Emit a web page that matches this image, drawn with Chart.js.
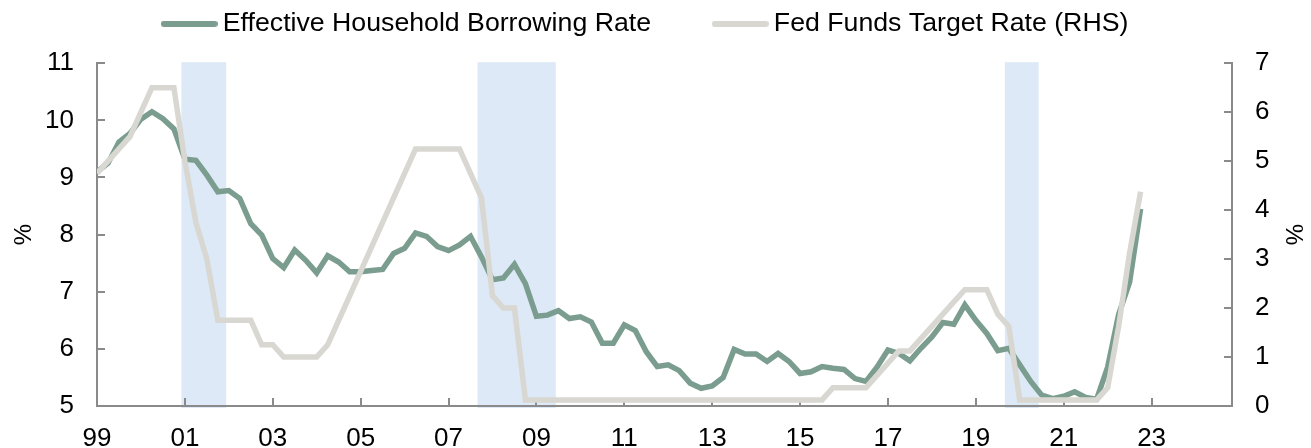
<!DOCTYPE html>
<html>
<head>
<meta charset="utf-8">
<script src="https://cdn.jsdelivr.net/npm/chart.js@4.4.1/dist/chart.umd.min.js"></script>
<style>
  html, body { margin: 0; padding: 0; background: #fff; }
</style>
</head>
<body>
<canvas id="chart" width="1311" height="448"></canvas>
<script>
// quarterly data, first point is 1999 Q1
const startYear = 1999;

const borrowingRate = [
  9.10, 9.25, 9.62, 9.77,   // 1999
  10.02, 10.15, 10.03, 9.85, // 2000
  9.32, 9.30, 9.04, 8.75,   // 2001
  8.77, 8.63, 8.19, 7.99,   // 2002
  7.58, 7.42, 7.73, 7.55,   // 2003
  7.33, 7.63, 7.52, 7.35,   // 2004
  7.35, 7.37, 7.39, 7.67,   // 2005
  7.76, 8.03, 7.97, 7.79,   // 2006
  7.72, 7.82, 7.97, 7.61,   // 2007
  7.21, 7.24, 7.48, 7.14,   // 2008
  6.57, 6.59, 6.67, 6.53,   // 2009
  6.56, 6.47, 6.10, 6.10,   // 2010
  6.42, 6.32, 5.95, 5.69,   // 2011
  5.72, 5.62, 5.40, 5.31,   // 2012
  5.35, 5.50, 5.99, 5.91,   // 2013
  5.91, 5.78, 5.92, 5.78,   // 2014
  5.57, 5.60, 5.69, 5.66,   // 2015
  5.64, 5.48, 5.43, 5.68,   // 2016
  5.98, 5.92, 5.79, 6.01,   // 2017
  6.21, 6.46, 6.43, 6.77,   // 2018
  6.50, 6.27, 5.97, 6.01,   // 2019
  5.72, 5.43, 5.19, 5.13,   // 2020
  5.17, 5.25, 5.15, 5.12,   // 2021
  5.68, 6.60, 7.17, 8.45    // 2022
];

const fedFundsRate = [
  4.75, 5.00, 5.25, 5.50,   // 1999
  6.00, 6.50, 6.50, 6.50,   // 2000
  5.00, 3.75, 3.00, 1.75,   // 2001
  1.75, 1.75, 1.75, 1.25,   // 2002
  1.25, 1.00, 1.00, 1.00,   // 2003
  1.00, 1.25, 1.75, 2.25,   // 2004
  2.75, 3.25, 3.75, 4.25,   // 2005
  4.75, 5.25, 5.25, 5.25,   // 2006
  5.25, 5.25, 4.75, 4.25,   // 2007
  2.25, 2.00, 2.00, 0.125,  // 2008
  0.125, 0.125, 0.125, 0.125, // 2009
  0.125, 0.125, 0.125, 0.125, // 2010
  0.125, 0.125, 0.125, 0.125, // 2011
  0.125, 0.125, 0.125, 0.125, // 2012
  0.125, 0.125, 0.125, 0.125, // 2013
  0.125, 0.125, 0.125, 0.125, // 2014
  0.125, 0.125, 0.125, 0.375, // 2015
  0.375, 0.375, 0.375, 0.625, // 2016
  0.875, 1.125, 1.125, 1.375, // 2017
  1.625, 1.875, 2.125, 2.375, // 2018
  2.375, 2.375, 1.875, 1.625, // 2019
  0.125, 0.125, 0.125, 0.125, // 2020
  0.125, 0.125, 0.125, 0.125, // 2021
  0.375, 1.625, 3.125, 4.375  // 2022
];

// shaded recession periods (decimal years)
const recessions = [[2000.92, 2001.94], [2007.66, 2009.44], [2019.66, 2020.43]];

const tickYears = [1999, 2001, 2003, 2005, 2007, 2009, 2011, 2013, 2015, 2017, 2019, 2021, 2023];
const tickLabels = ['99', '01', '03', '05', '07', '09', '11', '13', '15', '17', '19', '21', '23'];

const quarters = borrowingRate.map((v, i) => startYear + i / 4);

const GREEN = '#7b9d8f';
const GREY = '#d9d7d1';
const AXIS = '#8a8a8a';

Chart.defaults.font.family = "'Liberation Sans', Arial, sans-serif";
Chart.defaults.color = '#000';

// little rounded bar used as legend marker
function swatch(color) {
  const c = document.createElement('canvas');
  c.width = 57;
  c.height = 6;
  const g = c.getContext('2d');
  g.fillStyle = color;
  g.beginPath();
  g.roundRect(0, 0, 57, 6, 3);
  g.fill();
  return c;
}

// light blue bands behind everything
const recessionBands = {
  id: 'recessionBands',
  beforeDraw(chart) {
    const {ctx, chartArea, scales: {x}} = chart;
    ctx.save();
    ctx.fillStyle = '#dde9f6';
    recessions.forEach(([a, b]) => {
      const x1 = x.getPixelForValue(a);
      const x2 = x.getPixelForValue(b);
      ctx.fillRect(x1, chartArea.top - 1, x2 - x1, chartArea.bottom - chartArea.top + 3);
    });
    ctx.restore();
  }
};

// extra room under the legend
const legendGap = {
  id: 'legendGap',
  beforeLayout(chart) {
    const lg = chart.legend;
    if (lg && !lg._gapped) {
      const fit = lg.fit;
      lg.fit = function () { fit.call(this); this.height += 16; };
      lg._gapped = true;
    }
  }
};

// fixed axis width, and no label overhang pushing the plot in
function fixY(w) {
  return scale => {
    scale.width = w;
    scale.paddingTop = 0;
    scale.paddingBottom = 0;
  };
}

new Chart(document.getElementById('chart'), {
  type: 'line',
  data: {
    datasets: [{
      label: 'Effective Household Borrowing Rate',
      data: quarters.map((q, i) => ({x: q, y: borrowingRate[i]})),
      borderColor: GREEN,
      backgroundColor: GREEN,
      borderWidth: 5.5,
      yAxisID: 'y',
      order: 2
    }, {
      label: 'Fed Funds Target Rate (RHS)',
      data: quarters.map((q, i) => ({x: q, y: fedFundsRate[i]})),
      borderColor: GREY,
      backgroundColor: GREY,
      borderWidth: 5.5,
      yAxisID: 'y1',
      order: 1
    }]
  },
  options: {
    responsive: false,
    animation: false,
    elements: {
      point: {radius: 0},
      line: {tension: 0}
    },
    layout: {
      padding: {top: -58.5, left: -13.7, right: 0, bottom: 0}
    },
    plugins: {
      tooltip: {enabled: false},
      legend: {
        position: 'top',
        labels: {
          usePointStyle: true,
          pointStyleWidth: 40.5,
          boxHeight: 6,
          padding: 69,
          font: {size: 26.7},
          generateLabels(chart) {
            const items = Chart.defaults.plugins.legend.labels.generateLabels(chart);
            items.forEach(it => {
              it.pointStyle = swatch(it.strokeStyle);
              it.lineWidth = 0;
            });
            return items.sort((a, b) => a.datasetIndex - b.datasetIndex);
          }
        }
      }
    },
    scales: {
      x: {
        type: 'linear',
        min: 1999,
        max: 2024.83,
        afterBuildTicks(scale) {
          scale.ticks = tickYears.map(v => ({value: v}));
        },
        afterFit(scale) { scale.height = 42; },
        ticks: {
          font: {size: 26},
          padding: 25,
          maxRotation: 0,
          autoSkip: false,
          callback(v) { return tickLabels[tickYears.indexOf(v)]; }
        },
        grid: {drawOnChartArea: false, tickLength: -8, color: AXIS, lineWidth: 2},
        border: {color: AXIS, width: 2}
      },
      y: {
        position: 'left',
        min: 5,
        max: 11,
        afterFit: fixY(110.7),
        ticks: {stepSize: 1, font: {size: 26}, padding: 31},
        grid: {drawOnChartArea: false, tickLength: -8, color: AXIS, lineWidth: 2},
        border: {color: AXIS, width: 2},
        title: {display: true, text: '%', font: {size: 24, lineHeight: 1}, padding: {top: 26, bottom: 0}}
      },
      y1: {
        position: 'right',
        min: 0,
        max: 7,
        afterFit: fixY(79),
        ticks: {stepSize: 1, font: {size: 26}, padding: 31},
        grid: {drawOnChartArea: false, tickLength: -8, color: AXIS, lineWidth: 2},
        border: {color: AXIS, width: 2},
        title: {display: true, text: '%', font: {size: 24, lineHeight: 1}, padding: {top: 6, bottom: 0}}
      }
    }
  },
  plugins: [recessionBands, legendGap]
});
</script>
</body>
</html>
